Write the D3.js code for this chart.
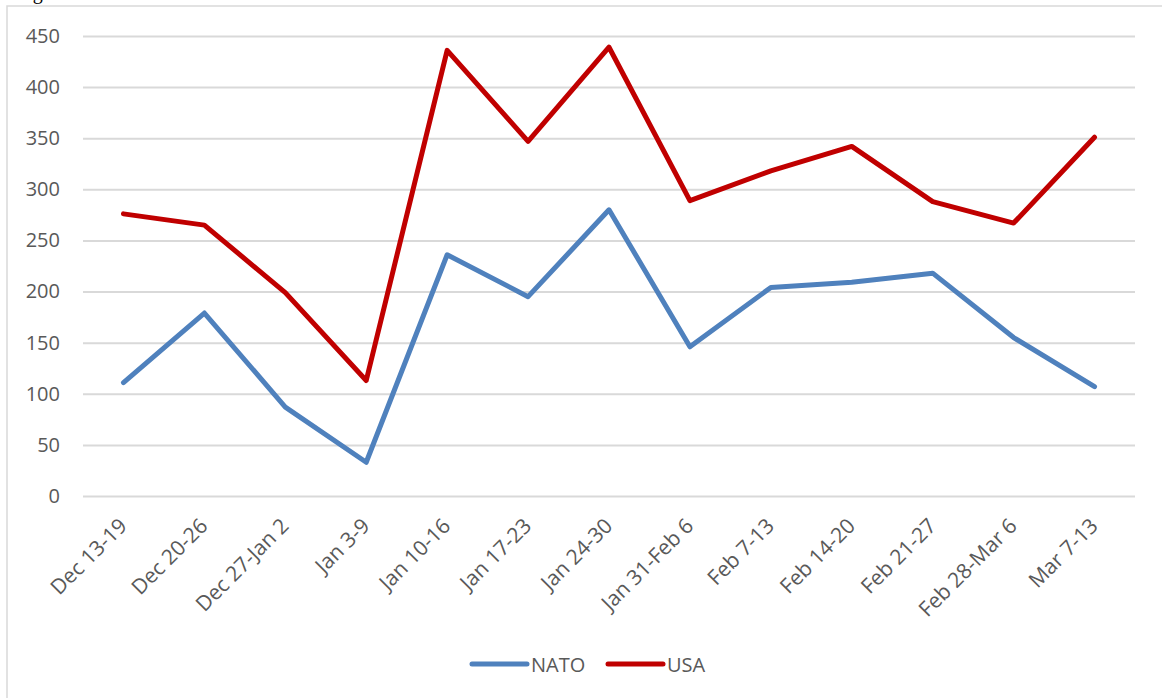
<!DOCTYPE html>
<html>
<head>
<meta charset="utf-8">
<script src="https://cdn.jsdelivr.net/npm/d3@7"></script>
<style>
	body { margin: 0; background: #fff; }
	svg { display: block; }
</style>
</head>
<body>
<div id="chart"></div>
<script>
var weeks = ['Dec 13-19', 'Dec 20-26', 'Dec 27-Jan 2', 'Jan 3-9', 'Jan 10-16', 'Jan 17-23',
	'Jan 24-30', 'Jan 31-Feb 6', 'Feb 7-13', 'Feb 14-20', 'Feb 21-27', 'Feb 28-Mar 6', 'Mar 7-13'];
var nato = [111, 179, 87, 33, 236, 195, 280, 146, 204, 209, 218, 155, 107];
var usa = [276, 265, 199, 113, 436, 347, 439, 289, 318, 342, 288, 267, 351];
var yTicks = [0, 50, 100, 150, 200, 250, 300, 350, 400, 450];

var seriesNames = ['NATO', 'USA'];
var seriesColors = ['#4f81bd', '#c00000'];

var width = 1162,
	height = 698;

var svg = d3.select('#chart').append('svg')
	.attr('width', width)
	.attr('height', height);

// caption above the frame, cut off by the top edge as in the source
svg.append('text')
	.attr('x', 16)
	.attr('y', -1)
	.attr('font-family', 'Liberation Serif')
	.attr('font-size', 20)
	.attr('fill', '#000')
	.text('Figure');

// chart frame
svg.append('rect')
	.attr('x', 7)
	.attr('y', 6)
	.attr('width', 1170)
	.attr('height', 710)
	.attr('fill', 'none')
	.attr('stroke', '#d9d9d9')
	.attr('stroke-width', 1.5);

var x = d3.scalePoint()
	.domain(weeks)
	.range([83, 1135])
	.padding(0.5);

var y = d3.scaleLinear()
	.domain([0, 450])
	.range([496, 36]);

//gridlines + y labels
var yAxis = d3.axisLeft(y)
	.tickValues(yTicks)
	.tickSize(-(1135 - 83))
	.tickPadding(23);

var gy = svg.append('g')
	.attr('transform', 'translate(83,0)')
	.call(yAxis);
gy.select('.domain').remove();
gy.selectAll('.tick line')
	.attr('stroke', '#d9d9d9')
	.attr('stroke-width', 2);
gy.selectAll('.tick text')
	.attr('font-family', 'Open Sans')
	.attr('font-size', 20)
	.attr('fill', '#595959');

//x labels
var xAxis = d3.axisBottom(x).tickSize(0).tickPadding(0);
var gx = svg.append('g')
	.attr('transform', 'translate(0,496)')
	.call(xAxis);
gx.select('.domain').remove();
gx.selectAll('.tick text')
	.attr('font-family', 'Open Sans')
	.attr('font-size', 21)
	.attr('fill', '#595959')
	.attr('text-anchor', 'end')
	.attr('dy', '0.35em')
	.attr('transform', 'translate(-1,26) rotate(-45)');

//lines
var line = d3.line()
	.x(function(d, i){ return x(weeks[i]); })
	.y(function(d){ return y(d); });

[nato, usa].forEach(function(s, k){
	svg.append('path')
		.datum(s)
		.attr('d', line)
		.attr('fill', 'none')
		.attr('stroke', seriesColors[k])
		.attr('stroke-width', 5)
		.attr('stroke-linejoin', 'round')
		.attr('stroke-linecap', 'round');
});

//legend
var legendX = [472, 608];
seriesNames.forEach(function(name, k){
	var g = svg.append('g').attr('transform', 'translate(' + legendX[k] + ',664)');
	g.append('line')
		.attr('x1', 0).attr('x2', 55)
		.attr('y1', 0).attr('y2', 0)
		.attr('stroke', seriesColors[k])
		.attr('stroke-width', 5)
		.attr('stroke-linecap', 'round');
	g.append('text')
		.attr('x', 59)
		.attr('y', 8)
		.attr('font-family', 'Open Sans')
		.attr('font-size', 20)
		.attr('fill', '#595959')
		.text(name);
});
</script>
</body>
</html>
